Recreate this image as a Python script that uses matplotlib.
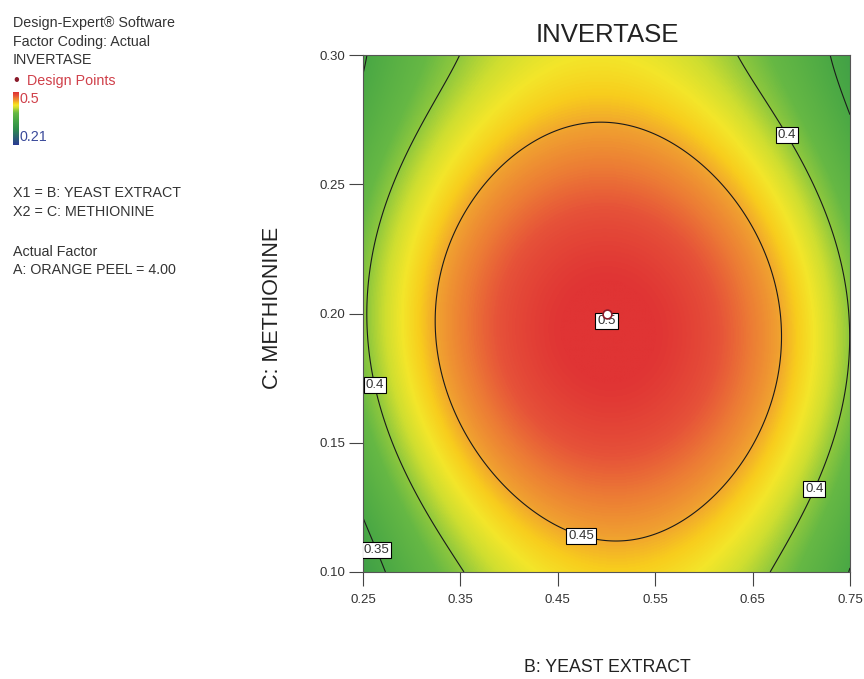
import numpy as np
import matplotlib
matplotlib.use("Agg")
import matplotlib.pyplot as plt
from matplotlib.colors import LinearSegmentedColormap, Normalize
from matplotlib import font_manager

# ---- data / model ----
x_range = [0.25, 0.75]          # B: YEAST EXTRACT
y_range = [0.10, 0.30]          # C: METHIONINE
x_ticks = [0.25, 0.35, 0.45, 0.55, 0.65, 0.75]
y_ticks = [0.10, 0.15, 0.20, 0.25, 0.30]
contour_levels = [0.35, 0.40, 0.45]
resp_min, resp_max = 0.21, 0.5
design_x = [0.50]
design_y = [0.20]

# fitted response-surface coefficients (centred form)
f_max = 0.503
y_center = 0.193
b_yy = 10.13
e_y4 = 313.0
a_xx = 1.68
d_x2y2 = 19.9
e_x2y = 0.671
x_shift0 = 0.502
x_shift_k = -0.095

# colour stops (response value, colour)
stop_vals = [0.21, 0.30, 0.35, 0.385, 0.40, 0.415, 0.428, 0.44, 0.452, 0.468, 0.482, 0.50]
stop_cols = ["#2a3b94", "#2f8f4a", "#4aa845", "#66b844", "#8fc83d", "#cfde30",
             "#f3e62a", "#f8cd1d", "#f0a030", "#ec7a35", "#e65239", "#e03434"]

fam_pref = ["Liberation Sans Narrow", "Liberation Sans", "DejaVu Sans"]
avail = {f.name for f in font_manager.fontManager.ttflist}
fam = [f for f in fam_pref if f in avail] or ["DejaVu Sans"]
plt.rcParams["font.family"] = fam

fig = plt.figure(figsize=(8.64, 6.79), dpi=100)
ax = fig.add_axes([363/864, 1-572/679, (850-363)/864, (572-55)/679])

xs = np.linspace(x_range[0], x_range[1], 500)
ys = np.linspace(y_range[0], y_range[1], 500)
X, Y = np.meshgrid(xs, ys)
V = Y - y_center
Uc = X - (x_shift0 + x_shift_k*V)
Z = (f_max - b_yy*V**2 + e_y4*V**4
     - (a_xx - d_x2y2*V**2 - e_x2y*V) * Uc**2)

pos = [(v - resp_min)/(resp_max - resp_min) for v in stop_vals]
cmap = LinearSegmentedColormap.from_list("de", list(zip(pos, stop_cols)))
norm = Normalize(resp_min, resp_max)
ax.imshow(Z, origin="lower", extent=[x_range[0], x_range[1], y_range[0], y_range[1]],
          cmap=cmap, norm=norm, aspect="auto", interpolation="bilinear")

cs = ax.contour(X, Y, Z, levels=contour_levels, colors="#1a1a1a", linewidths=0.8)
manual = [(0.264, 0.1724), (0.2685, 0.1093), (0.476, 0.1163), (0.707, 0.2737), (0.719, 0.131)]
labels = ax.clabel(cs, fmt=lambda v: f"{v:g}", manual=manual, inline=False, fontsize=9.5)
for t in labels:
    t.set_rotation(0)
    t.set_bbox(dict(boxstyle="square,pad=0.15", fc="white", ec="black", lw=0.8))
    t.set_color("#333333")

# design point and centre label
ax.text(design_x[0], design_y[0] - 0.003, "0.5", fontsize=9.5, color="#333333",
        ha="center", va="center",
        bbox=dict(boxstyle="square,pad=0.15", fc="white", ec="black", lw=0.8))
ax.scatter(design_x, design_y, s=40, facecolor="white", edgecolor="#8a1a2a", lw=1.2, zorder=5)

ax.set_xlim(*x_range)
ax.set_ylim(*y_range)
ax.set_xticks(x_ticks)
ax.set_yticks(y_ticks)
ax.set_xticklabels([f"{v:.2f}" for v in x_ticks])
ax.set_yticklabels([f"{v:.2f}" for v in y_ticks])
ax.tick_params(direction="out", length=10, width=0.8, colors="#444444", labelsize=9.5,
               labelcolor="#333333")
ax.tick_params(axis="x", pad=6)
ax.tick_params(axis="y", pad=3)
for s in ax.spines.values():
    s.set_color("#555555")
    s.set_linewidth(0.8)

fig.text(607/864, 1-35/679, "INVERTASE", ha="center", va="center", fontsize=18.5, color="#222222")
fig.text(607/864, 1-668/679, "B: YEAST EXTRACT", ha="center", va="center", fontsize=12.8, color="#222222")
fig.text(272/864, 1-308/679, "C: METHIONINE", ha="center", va="center", rotation=90,
         fontsize=15.5, color="#222222")

# left-hand legend text
tx = 13/864
def ltext(ypx, s, color="#333333", x=tx):
    fig.text(x, 1-ypx/679, s, ha="left", va="center", fontsize=10.3, color=color)

ltext(23, "Design-Expert® Software")
ltext(42, "Factor Coding: Actual")
ltext(60, "INVERTASE")
fig.text(16/864, 1-81/679, "•", ha="center", va="center", fontsize=12, color="#8a1a2a")
ltext(81, "Design Points", color="#d0404a", x=27/864)
ltext(99, "0.5", color="#d0404a", x=20/864)
ltext(137, "0.21", color="#3a4a9a", x=20/864)
ltext(193, "X1 = B: YEAST EXTRACT")
ltext(212, "X2 = C: METHIONINE")
ltext(252, "Actual Factor")
ltext(270, "A: ORANGE PEEL = 4.00")

# small colour bar
cax = fig.add_axes([13/864, 1-145/679, 6/864, (145-92)/679])
grad = np.linspace(resp_min, resp_max, 200).reshape(-1, 1)
cax.imshow(grad, origin="lower", aspect="auto", cmap=cmap, norm=norm)
cax.set_axis_off()

fig.savefig("out.png", dpi=100)
